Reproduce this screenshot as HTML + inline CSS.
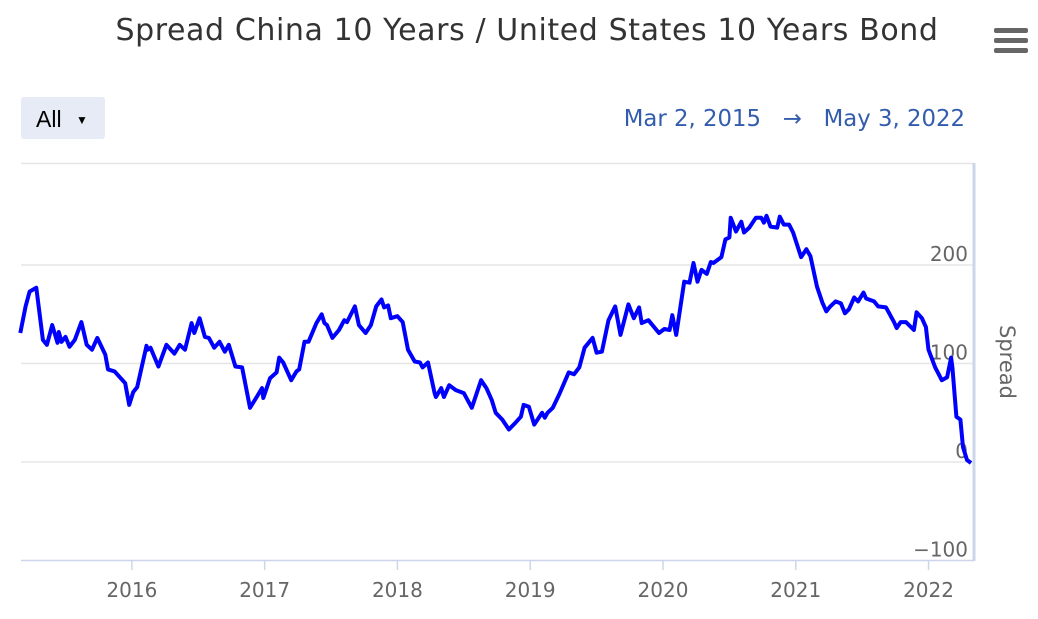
<!DOCTYPE html>
<html><head><meta charset="utf-8"><style>
body{margin:0;background:#fff;width:1038px;height:619px;overflow:hidden;font-family:"Liberation Sans",sans-serif}
svg{display:block}
</style></head><body>
<svg id="chart" width="1038" height="619" viewBox="0 0 1038 619" xmlns="http://www.w3.org/2000/svg">
<rect x="0" y="0" width="1038" height="619" fill="#fff"/>
<text x="527" y="40" text-anchor="middle" font-size="30" fill="#333" letter-spacing="0.6" font-family="DejaVu Sans, sans-serif">Spread China 10 Years / United States 10 Years Bond</text>
<g>
<rect x="994" y="28" width="34" height="5" rx="2" fill="#666"/>
<rect x="994" y="38" width="34" height="5" rx="2" fill="#666"/>
<rect x="994" y="48" width="34" height="5" rx="2" fill="#666"/>
</g>
<g>
<rect x="21" y="97" width="84" height="42" rx="3" fill="#e6ebf5"/>
<text x="36" y="127" font-size="23" fill="#000">All</text>
<text x="76" y="124" font-size="12" fill="#000">▼</text>
</g>
<text x="965" y="126" text-anchor="end" font-size="22.8" fill="#335cad" font-family="DejaVu Sans, sans-serif">Mar 2, 2015 &#160; → &#160; May 3, 2022</text>
<line x1="21" y1="163.5" x2="974" y2="163.5" stroke="#e6e6e6" stroke-width="1.5"/>
<g id="grid"></g>
<g id="xaxis"></g>
<g id="yaxis"></g>
<line x1="974" y1="163" x2="974" y2="561" stroke="#ccd6eb" stroke-width="3"/>
<line x1="21" y1="560.5" x2="974" y2="560.5" stroke="#ccd6eb" stroke-width="1.5"/>
<text x="1000" y="362" transform="rotate(90 1000 362)" text-anchor="middle" font-size="21" fill="#666" font-family="DejaVu Sans, sans-serif">Spread</text>
<path id="line" fill="none" stroke="#0000ff" stroke-width="4" stroke-linejoin="round"/>
</svg>
<script>
const dates=[2015.16,2015.20,2015.23,2015.28,2015.33,2015.36,2015.40,2015.44,2015.45,2015.47,2015.50,2015.53,2015.57,2015.62,2015.66,2015.70,2015.74,2015.80,2015.82,2015.87,2015.91,2015.95,2015.98,2016.01,2016.04,2016.11,2016.12,2016.14,2016.20,2016.26,2016.32,2016.36,2016.40,2016.45,2016.47,2016.51,2016.55,2016.58,2016.62,2016.66,2016.70,2016.73,2016.78,2016.83,2016.89,2016.94,2016.98,2016.99,2017.04,2017.09,2017.11,2017.14,2017.20,2017.24,2017.26,2017.30,2017.33,2017.39,2017.43,2017.45,2017.47,2017.51,2017.56,2017.60,2017.62,2017.68,2017.71,2017.76,2017.80,2017.84,2017.88,2017.90,2017.93,2017.95,2018.00,2018.04,2018.08,2018.13,2018.17,2018.19,2018.23,2018.28,2018.29,2018.33,2018.35,2018.39,2018.44,2018.50,2018.56,2018.63,2018.67,2018.71,2018.74,2018.79,2018.84,2018.89,2018.93,2018.95,2018.99,2019.03,2019.09,2019.11,2019.13,2019.17,2019.22,2019.29,2019.33,2019.37,2019.41,2019.44,2019.47,2019.50,2019.54,2019.59,2019.64,2019.68,2019.74,2019.78,2019.82,2019.84,2019.89,2019.97,2020.01,2020.05,2020.07,2020.10,2020.16,2020.20,2020.23,2020.26,2020.29,2020.33,2020.36,2020.38,2020.44,2020.47,2020.50,2020.51,2020.55,2020.59,2020.61,2020.65,2020.70,2020.74,2020.76,2020.78,2020.81,2020.86,2020.88,2020.91,2020.95,2020.98,2021.04,2021.08,2021.11,2021.16,2021.20,2021.23,2021.26,2021.30,2021.34,2021.37,2021.40,2021.44,2021.47,2021.51,2021.53,2021.59,2021.62,2021.68,2021.74,2021.76,2021.79,2021.83,2021.89,2021.91,2021.95,2021.98,2022.00,2022.05,2022.10,2022.14,2022.17,2022.18,2022.21,2022.24,2022.26,2022.29,2022.32];
const spreads=[131,158,173,177,124,119,139,121,132,122,127,117,124,142,119,114,126,109,94,92,86,80,58,71,76,118,114,116,97,119,110,119,114,141,131,146,127,126,116,122,112,119,97,96,55,66,75,65,85,91,106,101,83,92,94,122,122,141,150,141,139,126,134,144,142,158,139,131,139,158,165,157,159,146,148,142,114,102,101,96,101,70,66,75,66,78,73,70,55,83,75,63,50,43,33,40,46,58,56,38,50,45,50,55,69,91,89,96,116,121,126,111,112,144,158,129,160,146,157,141,144,131,135,134,149,129,183,182,202,183,195,191,203,202,208,226,228,248,234,244,233,238,248,248,243,250,239,238,249,241,241,233,208,216,209,178,162,153,158,163,161,151,155,167,163,172,166,163,158,157,142,136,142,142,134,152,146,137,114,96,83,86,106,96,46,43,15,2,-1];
const xTicks=[2016,2017,2018,2019,2020,2021,2022];
const yTicks=[-100,0,100,200];

const X0=21,X1=973;
const xMin=2015.165,xMax=2022.335;
const sx=v=>X0+(v-xMin)/(xMax-xMin)*(X1-X0);
const sy=v=>462+(0-v)*(462-265)/200;
const NS='http://www.w3.org/2000/svg';
const grid=document.getElementById('grid'),xa=document.getElementById('xaxis'),ya=document.getElementById('yaxis');
yTicks.forEach(t=>{
  const y=sy(t);
  if(t>-100){
    const l=document.createElementNS(NS,'line');
    
    
    l.setAttribute('x1',X0);l.setAttribute('x2',974);l.setAttribute('y1',y);l.setAttribute('y2',y);
    l.setAttribute('stroke','#e6e6e6');l.setAttribute('stroke-width','1.5');
    grid.appendChild(l);
  }
  const tx=document.createElementNS(NS,'text');
  
  
  tx.setAttribute('x',968);tx.setAttribute('y',y-4);tx.setAttribute('text-anchor','end');
  tx.setAttribute('font-size','20');tx.setAttribute('fill','#666');tx.setAttribute('font-family','DejaVu Sans, sans-serif');
  tx.textContent=t<0?'−'+Math.abs(t):String(t);
  ya.appendChild(tx);
});
xTicks.forEach(t=>{
  const x=sx(t);
  const l=document.createElementNS(NS,'line');
  
  
  l.setAttribute('x1',x);l.setAttribute('x2',x);l.setAttribute('y1',560);l.setAttribute('y2',570);
  l.setAttribute('stroke','#ccd6eb');l.setAttribute('stroke-width','1.5');
  xa.appendChild(l);
  const tx=document.createElementNS(NS,'text');
  
  
  tx.setAttribute('x',x);tx.setAttribute('y',597);tx.setAttribute('text-anchor','middle');
  tx.setAttribute('font-size','20');tx.setAttribute('fill','#666');tx.setAttribute('font-family','DejaVu Sans, sans-serif');
  tx.textContent=String(t);
  xa.appendChild(tx);
});
let d='';
dates.forEach((t,i)=>{d+=(i?'L':'M')+sx(t).toFixed(1)+','+sy(spreads[i]).toFixed(1);});
document.getElementById('line').setAttribute('d',d);
</script>
</body></html>
